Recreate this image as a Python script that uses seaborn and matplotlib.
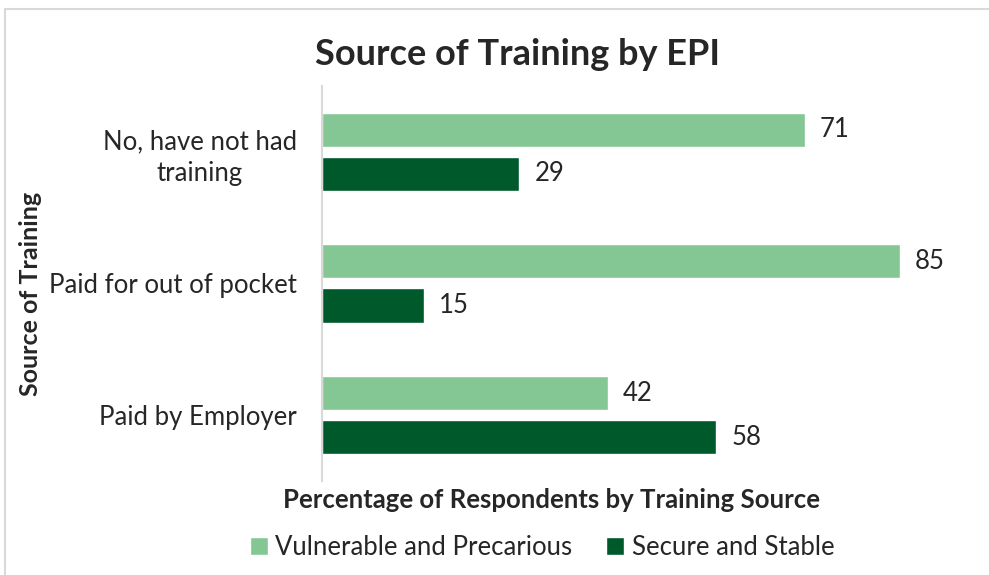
import pandas as pd
import numpy as np
import matplotlib.pyplot as plt
import seaborn as sns
from matplotlib.patches import Rectangle

# datos
fuentes = ["No, have not had\ntraining", "Paid for out of pocket", "Paid by Employer"]
grupos = ["Vulnerable and Precarious", "Secure and Stable"]
vulnerable = [71, 85, 42]
seguro = [29, 15, 58]
colores = ["#84C795", "#00592B"]

df = pd.DataFrame({
    "fuente": fuentes * 2,
    "grupo": [grupos[0]] * 3 + [grupos[1]] * 3,
    "valor": vulnerable + seguro,
})

sns.set_style("white")
plt.rcParams['font.family'] = ['Lato', 'DejaVu Sans']

fig = plt.figure(figsize=(9.89, 5.75), dpi=100)
ax = fig.add_axes([0.3256, 0.1635, 0.655, 0.687])

sns.barplot(data=df, y="fuente", x="valor", hue="grupo", orient="h",
            palette=colores, width=0.67, gap=0.227, saturation=1, ax=ax)

for cont in ax.containers:
    ax.bar_label(cont, fmt="%d", padding=11, fontsize=18.5)

ax.set_xlim(0, 95.3)
ax.set_ylim(2.5, -0.5)
ax.set_xticks([])
for s in ["top", "right", "bottom"]:
    ax.spines[s].set_visible(False)
ax.spines["left"].set_color("#D9D9D9")
ax.spines["left"].set_linewidth(1.5)
ax.tick_params(axis="y", length=0, pad=18, labelsize=18.5)
for t in ax.get_yticklabels():
    t.set_multialignment("center")
    t.set_linespacing(1.35)

ax.set_ylabel("")
ax.set_xlabel("")
fig.text(0.031, 0.488, "Source of Training", rotation=90, ha="center", va="center",
         fontsize=18, fontweight="bold")
fig.text(0.558, 0.13, "Percentage of Respondents by Training Source", ha="center",
         va="center", fontsize=18.5, fontweight="bold")
fig.text(0.523, 0.905, "Source of Training by EPI", ha="center", va="center",
         fontsize=26, fontweight="bold")

handles, labels = ax.get_legend_handles_labels()
ax.legend_.remove()
fig.legend(handles, labels, loc="center", bbox_to_anchor=(0.548, 0.047), ncol=2,
           frameon=False, fontsize=18.5, handlelength=0.7, handleheight=0.7,
           handletextpad=0.3, columnspacing=1.3)

fig.patches.append(Rectangle((5 / 989, -0.05), 1.1, 1 - 9 / 575 + 0.05,
                             transform=fig.transFigure, fill=False,
                             edgecolor="#D9D9D9", linewidth=1.5))

plt.savefig("out.png", dpi=100)
plt.close()
